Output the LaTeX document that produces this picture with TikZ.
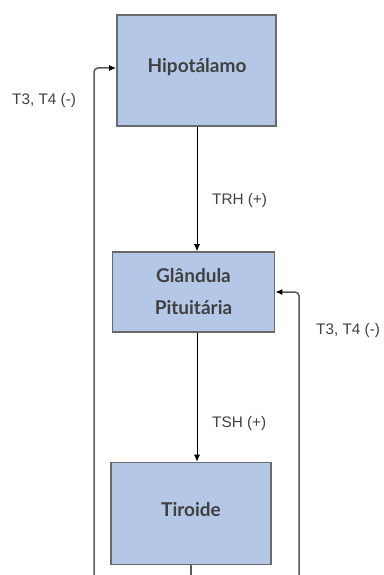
\documentclass[tikz,border=0pt]{standalone}
\usepackage{fontspec}
\setmainfont{Liberation Sans}
\newfontfamily\boxfont{Lato}
\usetikzlibrary{arrows.meta}
\definecolor{boxfill}{HTML}{B4C7E7}
\definecolor{boxline}{HTML}{6A6A6A}
\definecolor{boxtext}{HTML}{404040}
\definecolor{loopline}{HTML}{5A5A5A}
\tikzset{
  organ/.style={draw=boxline, line width=1.6pt, fill=boxfill, inner sep=0pt},
  organtext/.style={text=boxtext, inner sep=0pt, align=center,
    font=\boxfont\bfseries\fontsize{19}{32}\selectfont},
  signal/.style={draw=black, line width=0.8pt, -{Latex[length=7pt,width=6pt]}},
  feedback/.style={draw=loopline, line width=1.5pt, rounded corners=4pt,
    -{Latex[length=7pt,width=6pt,color=black]}},
  lbl/.style={text=boxtext, font=\fontsize{15.3}{17}\selectfont, inner sep=0pt}
}
\begin{document}
\begin{tikzpicture}[x=1pt,y=-1pt]
\useasboundingbox (0,0) rectangle (383,575);
\fill[white] (0,0) rectangle (383,575);

% the three glands
\node[organ, minimum width=159pt, minimum height=111pt] (hipo) at (196.5,70.5) {};
\node[organ, minimum width=162pt, minimum height=80pt] (pit) at (193.5,292) {};
\node[organ, minimum width=160pt, minimum height=102pt] (tir) at (191,513.5) {};

\node[organtext] (hipot) at (197,67) {Hipotálamo};
\node[organtext] (pitt) at (193.5,291.5) {Glândula\\Pituitária};
\node[organtext] (tirt) at (191,510) {Tiroide};

\coordinate (lb) at (94,575);
\coordinate (rb) at (299,575);
\coordinate (tb) at (191,575);

% hormone signals
\draw[signal] (hipo.south -| 197,0) -- (pit.north -| 197,0);
\draw[signal] (pit.south -| 197,0) -- (tir.north -| 197,0);
\draw[loopline, line width=1.5pt] (tir.south -| tb) -- (tb);

% negative feedback loops
\draw[feedback] (lb) -- (94,68) -- (hipo.west |- 0,68);
\draw[feedback] (rb) -- (299,292) -- (pit.east |- 0,292);

\node[lbl, anchor=west] (l1) at (12,101) {T3, T4 (-)};
\node[lbl, anchor=west] (l2) at (212,201) {TRH (+)};
\node[lbl, anchor=west] (l3) at (316,331) {T3, T4 (-)};
\node[lbl, anchor=west] (l4) at (212,424) {TSH (+)};
\end{tikzpicture}
\end{document}
